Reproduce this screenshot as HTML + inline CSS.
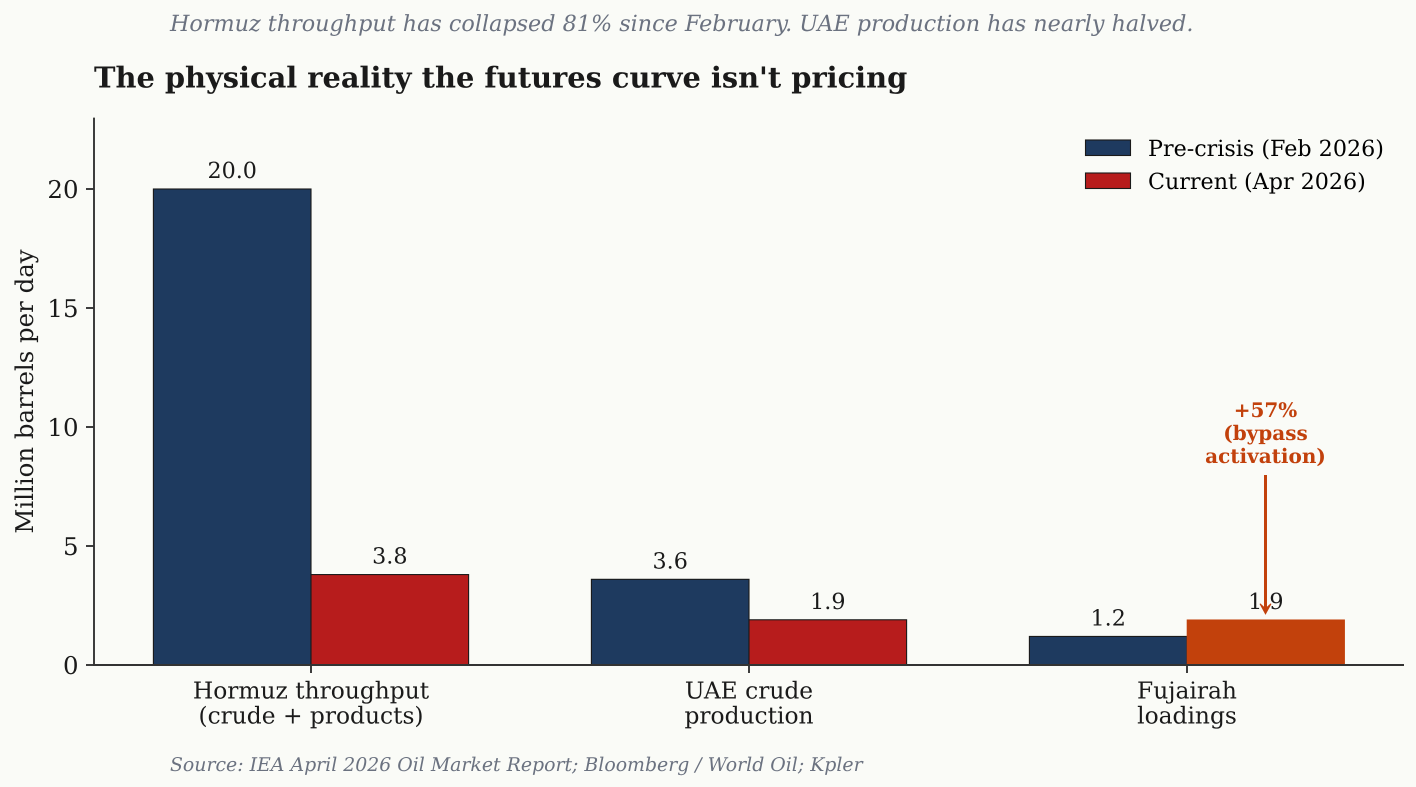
<!DOCTYPE html>
<html>
<head>
<meta charset="utf-8">
<title>The physical reality the futures curve isn't pricing</title>
<style>
html,body{margin:0;padding:0;background:#fafbf7;}
svg{display:block;}
text{font-family:"DejaVu Serif",serif;text-rendering:geometricPrecision;}
</style>
</head>
<body>
<svg id="chart" xmlns="http://www.w3.org/2000/svg" width="1416" height="787" viewBox="0 0 1416 787"></svg>
<script>
const categories = [["Hormuz throughput","(crude + products)"],["UAE crude","production"],["Fujairah","loadings"]];
const preCrisis = [20.0, 3.6, 1.2];
const current = [3.8, 1.9, 1.9];
const yTicks = [0, 5, 10, 15, 20];
const seriesNames = ["Pre-crisis (Feb 2026)", "Current (Apr 2026)"];
const yMax = 23;
const annotationValue = 1.9;
const annotationCategory = 2;

const NS = "http://www.w3.org/2000/svg";
const svg = document.getElementById("chart");
const plot = {left: 94, right: 1404, top: 117.6, bottom: 665};
const catStep = 438;
const barW = 157.6;
const navy = "#1e3a5f", red = "#b71c1c", orange = "#c2410c", ink = "#1a1a1a", grey = "#6b7280", axis = "#333333";
function xPos(i){ return 311 + i * catStep; }
function yPos(v){ return plot.bottom - (v / yMax) * (plot.bottom - plot.top); }
function make(tag, attrs, parent){
  const el = document.createElementNS(NS, tag);
  for (const k in attrs) el.setAttribute(k, attrs[k]);
  (parent || svg).appendChild(el);
  return el;
}
function label(str, x, y, size, anchor, fill, extra){
  const el = make("text", Object.assign({x: x, y: y, "font-size": size, "text-anchor": anchor, fill: fill}, extra || {}));
  el.textContent = str;
  return el;
}

let el;
el = make("rect", {x: 0, y: 0, width: 1416, height: 787, fill: "#fafbf7"});



el = label("Hormuz throughput has collapsed 81% since February. UAE production has nearly halved.", 170, 31, 22.29, "start", grey, {"font-style": "italic"});



el = label("The physical reality the futures curve isn't pricing", 94, 87.5, 28.87, "start", ink, {"font-weight": "bold"});



categories.forEach(function(c, i){
  const x = xPos(i);
  const y0 = yPos(0);
  const b1 = make("rect", {x: x - barW, y: yPos(preCrisis[i]), width: barW, height: y0 - yPos(preCrisis[i]), fill: navy, stroke: ink, "stroke-width": 1.1});
  
  
  const isAnn = i === annotationCategory;
  const b2 = make("rect", {x: x, y: yPos(current[i]), width: barW, height: y0 - yPos(current[i]), fill: isAnn ? orange : red, stroke: isAnn ? orange : ink, "stroke-width": isAnn ? 0.6 : 1.1});
  
  
  const l1 = label(preCrisis[i].toFixed(1), x - barW / 2, yPos(preCrisis[i]) - 11, 22.22, "middle", ink);
  
  
  const l2 = label(current[i].toFixed(1), x + barW / 2, yPos(current[i]) - 11, 22.22, "middle", ink);
  
  
});

el = make("line", {x1: plot.left, y1: plot.top, x2: plot.left, y2: plot.bottom, stroke: axis, "stroke-width": 1.9});


el = make("line", {x1: plot.left - 1, y1: plot.bottom, x2: plot.right, y2: plot.bottom, stroke: axis, "stroke-width": 1.9});



yTicks.forEach(function(t){
  const y = yPos(t);
  const tick = make("line", {x1: plot.left - 8, y1: y, x2: plot.left, y2: y, stroke: axis, "stroke-width": 1.9});
  
  
  const tl = label(String(t), plot.left - 15.5, y + 8.9, 24.44, "end", ink);
  
  
});

categories.forEach(function(c, i){
  const x = xPos(i);
  const tick = make("line", {x1: x, y1: plot.bottom, x2: x, y2: plot.bottom + 8, stroke: axis, "stroke-width": 1.9});
  
  
  c.forEach(function(line, j){
    const tl = label(line, x, 698.5 + j * 25, 23.33, "middle", ink);
    
    
  });
});

el = label("Million barrels per day", 33, 391.5, 24.44, "middle", ink, {transform: "rotate(-90 33 391.5)"});



el = make("rect", {x: 1085.5, y: 140, width: 45, height: 15.5, fill: navy, stroke: ink, "stroke-width": 1.1});


el = label(seriesNames[0], 1148, 156, 22.22, "start", "#000");


el = make("rect", {x: 1085.5, y: 173, width: 45, height: 15.5, fill: red, stroke: ink, "stroke-width": 1.1});


el = label(seriesNames[1], 1148, 189, 22.22, "start", "#000");



const annX = xPos(annotationCategory) + barW / 2 - 0.3;
["+57%", "(bypass", "activation)"].forEach(function(line, j){
  const t = label(line, annX, 417 + j * 23, 20, "middle", orange, {"font-weight": "bold"});
  
  
});
const tipY = yPos(annotationValue) - 6;
el = make("line", {x1: annX, y1: 475, x2: annX, y2: tipY - 5, stroke: orange, "stroke-width": 3});


el = make("path", {d: "M" + (annX - 5.5) + " " + (tipY - 10) + "L" + annX + " " + (tipY - 5) + "L" + (annX + 5.5) + " " + (tipY - 10) + "L" + annX + " " + tipY + "Z", fill: orange, stroke: orange, "stroke-width": 1});



el = label("Source: IEA April 2026 Oil Market Report; Bloomberg / World Oil; Kpler", 170, 771, 18.89, "start", grey, {"font-style": "italic"});


</script>
</body>
</html>
